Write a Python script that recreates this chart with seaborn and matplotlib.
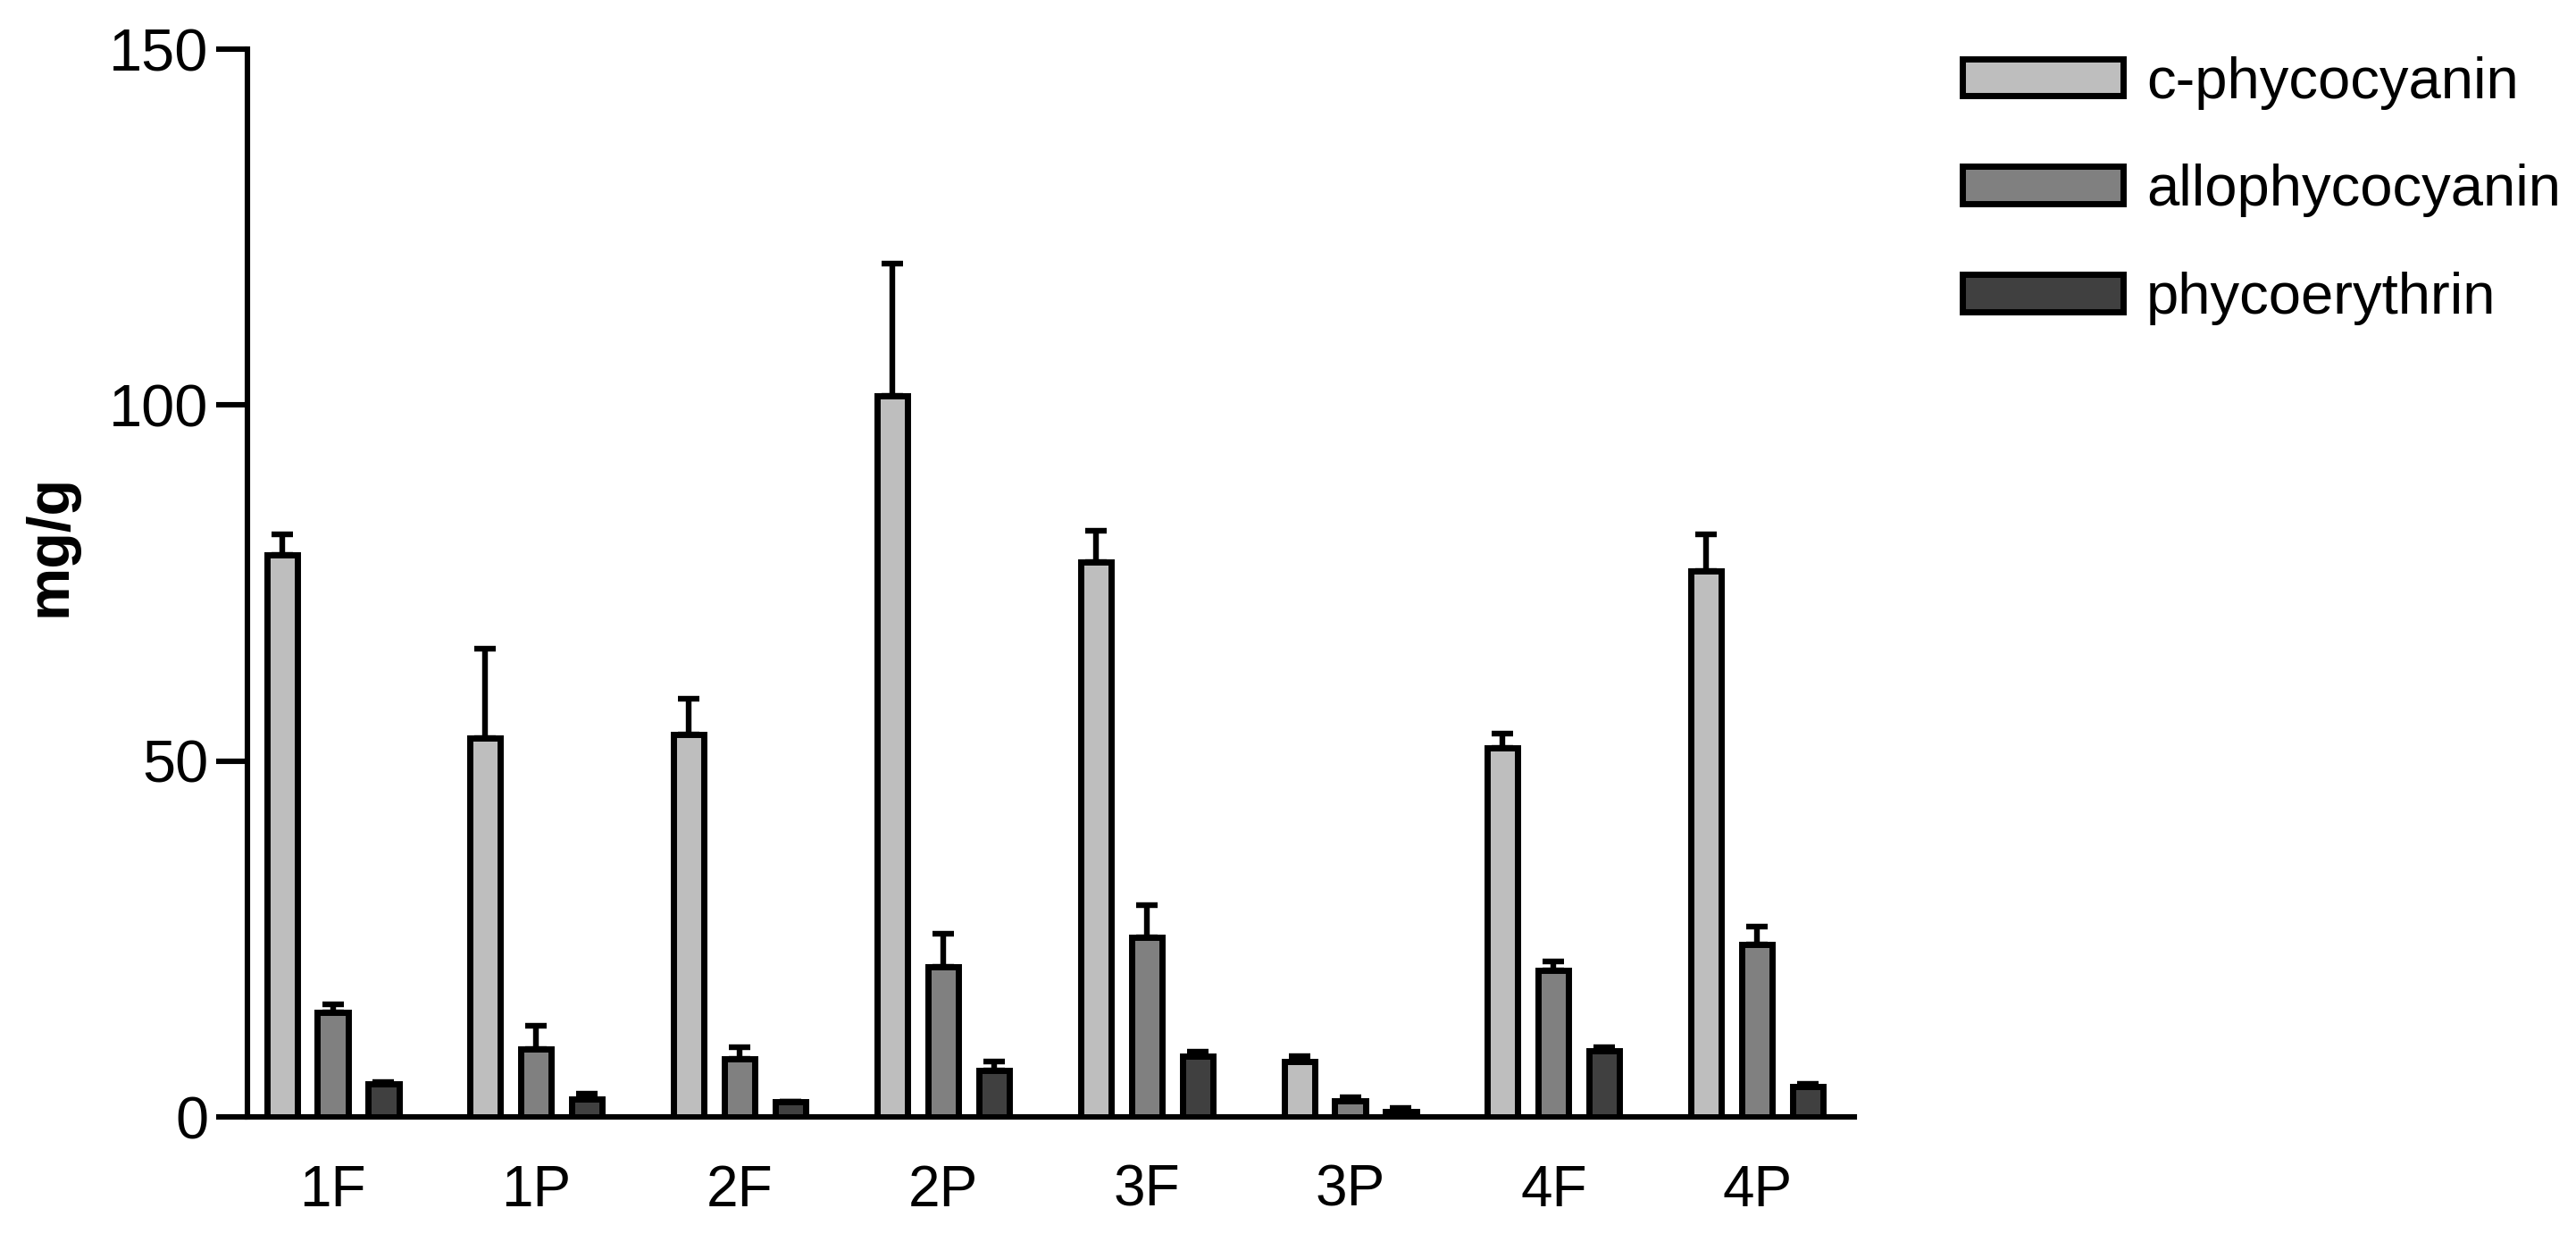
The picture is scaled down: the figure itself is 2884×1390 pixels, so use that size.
import matplotlib
matplotlib.use('Agg')
import matplotlib.pyplot as plt
import seaborn as sns
import numpy as np
import pandas as pd

# values (mg/g), upper error bars only
samples = ['1F', '1P', '2F', '2P', '3F', '3P', '4F', '4P']
pigments = ['c-phycocyanin', 'allophycocyanin', 'phycoerythrin']
c_phyco = [79.0, 53.2, 53.7, 101.3, 78.0, 7.8, 51.8, 76.7]
allo_phyco = [14.7, 9.6, 8.1, 21.1, 25.2, 2.3, 20.6, 24.2]
phyco_ery = [4.6, 2.5, 2.1, 6.5, 8.5, 0.8, 9.3, 4.3]
c_phyco_err = [2.8, 12.6, 5.1, 18.6, 4.4, 0.8, 2.0, 5.2]
allo_phyco_err = [1.1, 3.2, 1.7, 4.6, 4.6, 0.5, 1.2, 2.6]
phyco_ery_err = [0.3, 0.8, 0.1, 1.3, 0.7, 0.4, 0.5, 0.4]
bar_colors = ['#bebebe', '#808080', '#404040']

df = pd.DataFrame({
    'sample': samples * 3,
    'pigment': np.repeat(pigments, len(samples)),
    'value': c_phyco + allo_phyco + phyco_ery,
})
errs = [c_phyco_err, allo_phyco_err, phyco_ery_err]

sns.set_style('ticks')
plt.rcParams['font.family'] = ['Liberation Sans', 'DejaVu Sans']
plt.rcParams['text.color'] = 'black'
plt.rcParams['axes.labelcolor'] = 'black'

fig = plt.figure(figsize=(14.42, 6.95), dpi=200)
ax = fig.add_axes([0.096, 0.1007, 0.624, 0.8597])

sns.barplot(data=df, x='sample', y='value', hue='pigment', order=samples,
            hue_order=pigments, palette=bar_colors, width=0.75, gap=0.4,
            edgecolor='black', linewidth=2.5, errorbar=None, legend=False,
            saturation=1, ax=ax, zorder=3)
for cont in ax.containers:
    for b in cont:
        b.set_linewidth(2.5)
        b.set_edgecolor('black')

# upper error bars on every bar
for cont, err in zip(ax.containers, errs):
    xs = [b.get_x() + b.get_width() / 2 for b in cont]
    ys = [b.get_height() for b in cont]
    ax.errorbar(xs, ys, yerr=[np.zeros(len(err)), err], fmt='none',
                ecolor='black', elinewidth=2.3, capsize=4.3, capthick=2.3,
                zorder=2)

ax.set_xlim(-0.42, 7.48)
ax.set_ylim(0, 150)
ax.set_yticks([0, 50, 100, 150])
ax.set_xlabel('')
ax.set_ylabel('mg/g', fontsize=24, fontweight='bold')
ax.yaxis.set_label_coords(-0.105, 0.535)
ax.tick_params(axis='y', length=12.6, width=2.2, pad=3, labelsize=24, colors='black')
ax.tick_params(axis='x', length=0, pad=19, labelsize=23, colors='black')
for s in ['left', 'bottom']:
    ax.spines[s].set_linewidth(2.2)
    ax.spines[s].set_color('black')
sns.despine(ax=ax)

ax.legend(ax.containers, pigments, loc='upper left',
          bbox_to_anchor=(0.7618, 0.955), bbox_transform=fig.transFigure,
          frameon=False, fontsize=23.5, handlelength=2.76, handleheight=0.61,
          handletextpad=0.4, labelspacing=0.93, borderpad=0, borderaxespad=0)

fig.savefig('out.png', dpi=200)
